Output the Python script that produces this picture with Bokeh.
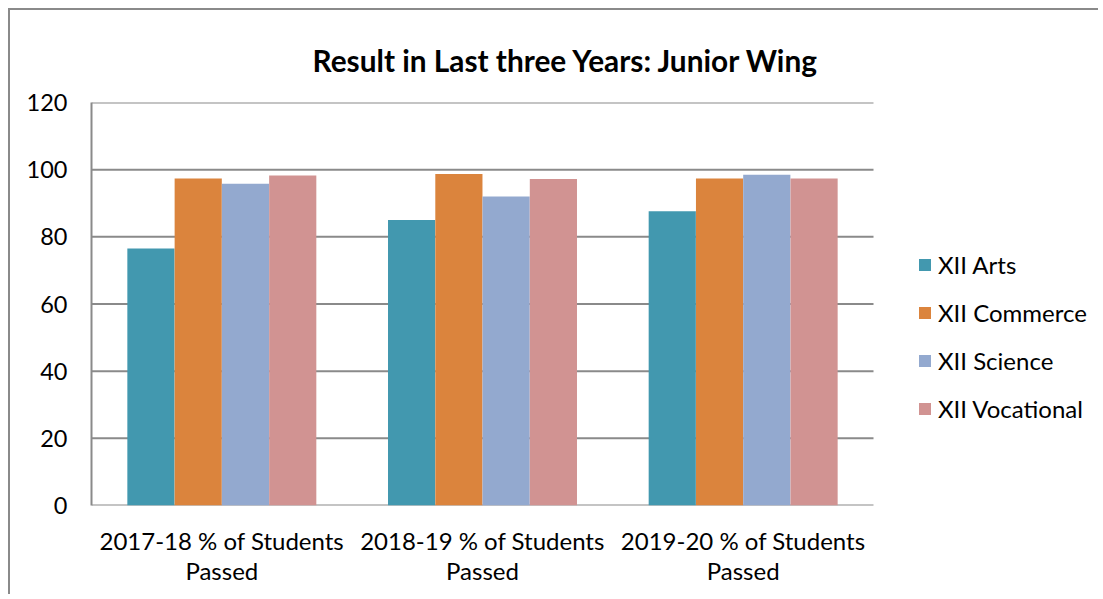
from bokeh.plotting import figure
from bokeh.models import Range1d, Legend, LegendItem, FixedTicker, ColumnDataSource
from bokeh.embed import file_html
from bokeh.resources import INLINE

categories = ["2017-18 % of Students\nPassed", "2018-19 % of Students\nPassed", "2019-20 % of Students\nPassed"]
series = ["XII Arts", "XII Commerce", "XII Science", "XII Vocational"]
arts = [76.5, 85.0, 87.6]
commerce = [97.4, 98.7, 97.4]
science = [95.8, 92.0, 98.5]
vocational = [98.3, 97.2, 97.4]
colors = ["#4298AF", "#DB843D", "#93A9CF", "#D19392"]
y_ticks = [0, 20, 40, 60, 80, 100, 120]

FONT = "Lato"
GRID = "#8a8a8a"

# layout (pixels)
FIG_W, FIG_H = 1090, 586
LEFT, TOP, BOTTOM = 81, 92, 91
PLOT_W = 782  # width of the bar area; the rest of the frame holds the legend
frame_w = FIG_W - LEFT
n = len(categories)
centers = [i + 0.5 for i in range(n)]

p = figure(width=FIG_W, height=FIG_H, x_range=Range1d(0, n * frame_w / PLOT_W),
           y_range=Range1d(0, 120), output_backend="svg", toolbar_location=None,
           min_border_left=LEFT, min_border_right=0, min_border_top=TOP, min_border_bottom=BOTTOM)
p.styles = {"margin-left": "8px", "margin-top": "8px",
            "border-top": "2px solid #8a8a8a", "border-left": "2px solid #8a8a8a"}

p.title.text = "Result in Last three Years: Junior Wing"
p.title.text_font = FONT
p.title.text_font_size = "29.8px"
p.title.text_font_style = "bold"
p.title.text_color = "black"
p.title.align = "left"
p.title.offset = 221
p.title.standoff = 50
p.title.text_line_height = 0.7

# horizontal grid lines over the bar area only
p.segment(x0=[0] * len(y_ticks), x1=[n] * len(y_ticks), y0=y_ticks, y1=y_ticks,
          line_color=GRID, line_width=2)

offsets = [-0.272, -0.0906, 0.0906, 0.272]
values = [arts, commerce, science, vocational]
renderers = []
for vals, off, col in zip(values, offsets, colors):
    src = ColumnDataSource(dict(x=[c + off for c in centers], top=vals))
    r = p.vbar(x="x", top="top", width=0.181, source=src, fill_color=col, line_color=None)
    renderers.append(r)

legend = Legend(items=[LegendItem(label=s, renderers=[r]) for s, r in zip(series, renderers)],
                location=(826, 73), padding=0, margin=0, spacing=0,
                label_height=48, glyph_height=15, glyph_width=15, label_standoff=6,
                label_text_font=FONT, label_text_font_size="24px", label_text_color="black",
                border_line_color=None, background_fill_alpha=0)
p.add_layout(legend, "center")

p.yaxis.ticker = FixedTicker(ticks=y_ticks)
p.yaxis.major_tick_line_color = None
p.yaxis.minor_tick_line_color = None
p.yaxis.axis_line_color = GRID
p.yaxis.axis_line_width = 2
p.yaxis.major_label_text_font = FONT
p.yaxis.major_label_text_font_size = "23.5px"
p.yaxis.major_label_standoff = 18
p.yaxis.major_label_text_color = "black"

p.xaxis.ticker = FixedTicker(ticks=centers)
p.xaxis.major_label_overrides = {c: lab for c, lab in zip(centers, categories)}
p.xaxis.major_tick_line_color = None
p.xaxis.minor_tick_line_color = None
p.xaxis.axis_line_color = None
p.xaxis.major_label_text_font = FONT
p.xaxis.major_label_text_font_size = "24px"
p.xaxis.major_label_text_line_height = 1.05
p.xaxis.major_label_standoff = 14
p.xaxis.major_label_text_color = "black"

p.xgrid.visible = False
p.ygrid.visible = False
p.outline_line_color = None

open("out.html", "w").write(file_html(p, INLINE))
